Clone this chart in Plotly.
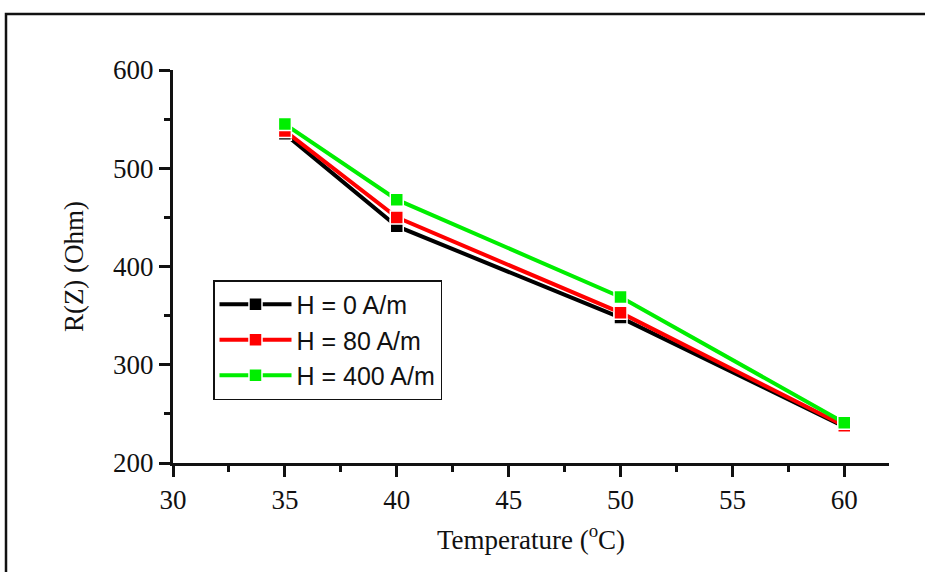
import plotly.graph_objects as go

temps = [35, 40, 50, 60]
r_h0 = [535, 441, 348, 237]
r_h80 = [538, 450, 353, 238]
r_h400 = [545, 468, 369, 241]
names = ["H = 0 A/m", "H = 80 A/m", "H = 400 A/m"]
colors = ["#000000", "#ff0000", "#00ee00"]

L, R, T, B = 173, 925 - 889, 70, 572 - 463
W, H = 925, 572
pw, ph = W - L - R, H - T - B

fig = go.Figure()
for vals, nm, c in zip([r_h0, r_h80, r_h400], names, colors):
    fig.add_trace(go.Scatter(
        x=temps, y=vals, name=nm, mode="lines+markers",
        line=dict(color=c, width=4),
        marker=dict(symbol="square", size=13, color=c, line=dict(color="white", width=1.5)),
    ))

def px(x):
    return (x - L) / pw

def py(y):
    return (H - B - y) / ph

fig.add_shape(type="rect", xref="paper", yref="paper",
              x0=px(6), x1=px(935), y0=py(14), y1=py(585),
              line=dict(color="#111111", width=2.5), fillcolor="rgba(0,0,0,0)")

axis_font = dict(family="Liberation Serif, Times New Roman, serif", size=27, color="#111111")
fig.update_layout(
    width=W, height=H,
    margin=dict(l=L, r=R, t=T, b=B),
    paper_bgcolor="white", plot_bgcolor="white",
    showlegend=True,
    legend=dict(x=px(213), y=py(280), xanchor="left", yanchor="top",
                bordercolor="#111111", borderwidth=1.5, bgcolor="white",
                font=dict(family="Liberation Sans, Arial, sans-serif", size=25, color="#111111"),
                itemwidth=72, tracegroupgap=0),
    xaxis=dict(range=[30, 62], tickvals=[30, 35, 40, 45, 50, 55, 60],
               showgrid=False, zeroline=False, showline=True, linecolor="#111111", linewidth=3,
               ticks="outside", ticklen=11, tickwidth=3, tickcolor="#111111",
               minor=dict(tickvals=[32.5, 37.5, 42.5, 47.5, 52.5, 57.5], ticks="outside",
                          ticklen=6, tickwidth=3, tickcolor="#111111"),
               tickfont=axis_font,
               title=dict(text="Temperature (<sup>o</sup>C)", font=axis_font, standoff=16)),
    yaxis=dict(range=[200, 600], tickvals=[200, 300, 400, 500, 600],
               showgrid=False, zeroline=False, showline=True, linecolor="#111111", linewidth=3,
               ticks="outside", ticklen=11, tickwidth=3, tickcolor="#111111",
               minor=dict(tickvals=[250, 350, 450, 550], ticks="outside",
                          ticklen=6, tickwidth=3, tickcolor="#111111"),
               tickfont=axis_font,
               title=dict(text="R(Z) (Ohm)", font=axis_font, standoff=22)),
)

fig.write_html("out.html", config={"displayModeBar": False},
               post_script="document.body.style.margin='0';document.body.style.overflow='hidden';")
